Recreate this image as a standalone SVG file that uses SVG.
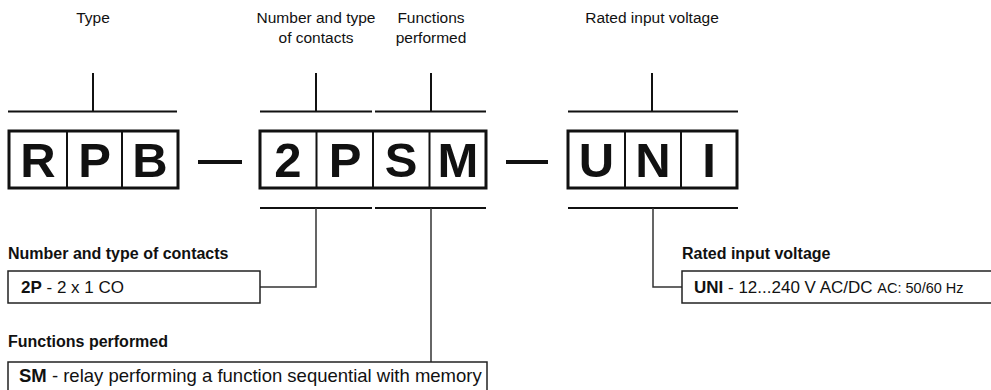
<svg xmlns="http://www.w3.org/2000/svg" width="991" height="390" viewBox="0 0 991 390">
<style>
text{font-family:"Liberation Sans",Arial,sans-serif;fill:#111}
.hd{font-size:15.5px;text-anchor:middle}
.lb{font-size:16px;font-weight:bold}
.bx{font-size:17px}
.bx2{font-size:18.5px}
.big{font-size:49px;font-weight:bold;text-anchor:middle}
.outer{fill:#fff;stroke:#111;stroke-width:3}
.div{stroke:#111;stroke-width:2}
.brk{stroke:#111;stroke-width:2;fill:none}
.con{stroke:#333;stroke-width:1.5;fill:none}
.tb{fill:#fff;stroke:#222;stroke-width:1.5}
.dash{stroke:#111;stroke-width:4}
</style>
<g id="headings">
<text class="hd" x="93" y="23">Type</text>
<text class="hd" x="316" y="23">Number and type</text>
<text class="hd" x="316" y="43">of contacts</text>
<text class="hd" x="431" y="23">Functions</text>
<text class="hd" x="431" y="43">performed</text>
<text class="hd" x="652" y="23">Rated input voltage</text>
</g>
<g id="connectors">
<path class="brk" d="M8 111.5H177M93 73V111.5"/>
<path class="brk" d="M260 111.5H372M316 73V111.5"/>
<path class="brk" d="M375 111.5H486M431 73V111.5"/>
<path class="brk" d="M568 111.5H738M652 73V111.5"/>
<path class="brk" d="M260 208H372M375 208H486M568 208H738"/>
<path class="con" d="M316 208V287H260"/>
<path class="con" d="M431 208V362"/>
<path class="con" d="M653 208V287H682"/>
<line class="dash" x1="198" y1="162" x2="242" y2="162"/>
<line class="dash" x1="506" y1="162" x2="548" y2="162"/>
</g>
<g id="code-type">
<rect class="outer" x="9" y="131" width="169" height="57"/>
<line class="div" x1="67" y1="131" x2="67" y2="188"/>
<line class="div" x1="122" y1="131" x2="122" y2="188"/>
<text class="big" x="38" y="177">R</text>
<text class="big" x="94.5" y="177">P</text>
<text class="big" x="150" y="177">B</text>
</g>
<g id="code-contacts-functions">
<rect class="outer" x="260" y="131" width="226" height="57"/>
<line class="div" x1="316.5" y1="131" x2="316.5" y2="188"/>
<line class="div" x1="373" y1="131" x2="373" y2="188"/>
<line class="div" x1="429.5" y1="131" x2="429.5" y2="188"/>
<text class="big" x="288" y="177">2</text>
<text class="big" x="345" y="177">P</text>
<text class="big" x="401" y="177">S</text>
<text class="big" x="458" y="177">M</text>
</g>
<g id="code-voltage">
<rect class="outer" x="568" y="131" width="169" height="57"/>
<line class="div" x1="625" y1="131" x2="625" y2="188"/>
<line class="div" x1="681" y1="131" x2="681" y2="188"/>
<text class="big" x="596.5" y="177">U</text>
<text class="big" x="653" y="177">N</text>
<text class="big" x="709" y="177">I</text>
</g>
<g id="desc-contacts">
<text class="lb" x="8" y="259">Number and type of contacts</text>
<rect class="tb" x="8" y="271" width="252" height="32"/>
<text class="bx" x="21" y="293"><tspan font-weight="bold">2P</tspan> - 2 x 1 CO</text>
</g>
<g id="desc-functions">
<text class="lb" x="8" y="347">Functions performed</text>
<rect class="tb" x="8" y="362" width="479" height="40"/>
<text class="bx2" x="19" y="382"><tspan font-weight="bold">SM</tspan> - relay performing a function sequential with memory</text>
</g>
<g id="desc-voltage">
<text class="lb" x="682" y="259">Rated input voltage</text>
<rect class="tb" x="682" y="271" width="320" height="32"/>
<text class="bx" x="694" y="293"><tspan font-weight="bold">UNI</tspan> - 12...240 V AC/DC <tspan font-size="14.5px">AC: 50/60 Hz</tspan></text>
</g>
</svg>
